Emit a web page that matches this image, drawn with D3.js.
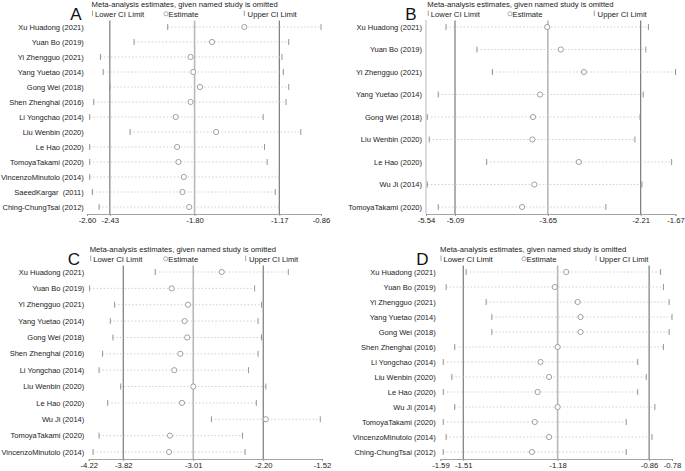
<!DOCTYPE html>
<html>
<head>
<meta charset="utf-8">
<script src="https://cdn.jsdelivr.net/npm/d3@7"></script>
<style>
  html, body { margin: 0; padding: 0; background: #fff; }
  svg { display: block; font-family: "Liberation Sans", Arial, sans-serif; }
  text { white-space: pre; }
</style>
</head>
<body>
<svg id="chart" width="685" height="471"></svg>
<script>
// ---------- DATA ----------
const studiesA = ["Xu Huadong (2021)","Yuan Bo (2019)","Yi Zhengguo (2021)","Yang Yuetao (2014)","Gong Wei (2018)","Shen Zhenghai (2016)","Li Yongchao (2014)","Liu Wenbin (2020)","Le Hao (2020)","TomoyaTakami (2020)","VincenzoMinutolo (2014)","SaeedKargar  (2011)","Ching-ChungTsai (2012)"];
const lowerA = [-2.00,-2.25,-2.50,-2.48,-2.43,-2.55,-2.58,-2.28,-2.58,-2.58,-2.58,-2.56,-2.51];
const estA   = [-1.43,-1.67,-1.83,-1.81,-1.76,-1.83,-1.94,-1.64,-1.93,-1.92,-1.88,-1.89,-1.84];
const upperA = [-0.86,-1.10,-1.15,-1.14,-1.10,-1.12,-1.29,-1.01,-1.28,-1.26,-1.17,-1.20,-1.17];
const ticksA = [-2.60,-2.43,-1.80,-1.17,-0.86];
const tickLabelsA = ["-2.60","-2.43","-1.80","-1.17","-0.86"];
const refA = [-2.43,-1.80,-1.17];

const studiesB = ["Xu Huadong (2021)","Yuan Bo (2019)","Yi Zhengguo (2021)","Yang Yuetao (2014)","Gong Wei (2018)","Liu Wenbin (2020)","Le Hao (2020)","Wu Ji (2014)","TomoyaTakami (2020)"];
const lowerB = [-5.23,-4.75,-4.51,-5.35,-5.52,-5.49,-4.60,-5.52,-5.35];
const estB   = [-3.66,-3.45,-3.09,-3.77,-3.88,-3.89,-3.17,-3.86,-4.05];
const upperB = [-2.09,-2.13,-1.67,-2.17,-2.22,-2.30,-1.73,-2.19,-2.75];
const ticksB = [-5.54,-5.09,-3.65,-2.21,-1.67];
const tickLabelsB = ["-5.54","-5.09","-3.65","-2.21","-1.67"];
const refB = [-5.09,-3.65,-2.21];

const studiesC = ["Xu Huadong (2021)","Yuan Bo (2019)","Yi Zhengguo (2021)","Yang Yuetao (2014)","Gong Wei (2018)","Shen Zhenghai (2016)","Li Yongchao (2014)","Liu Wenbin (2020)","Le Hao (2020)","Wu Ji (2014)","TomoyaTakami (2020)","VincenzoMinutolo (2014)"];
const lowerC = [-3.45,-4.21,-3.92,-3.97,-3.94,-4.06,-4.10,-3.85,-4.00,-2.80,-4.10,-4.17];
const estC   = [-2.68,-3.26,-3.07,-3.11,-3.08,-3.16,-3.23,-3.01,-3.14,-2.17,-3.28,-3.29];
const upperC = [-1.91,-2.30,-2.22,-2.26,-2.22,-2.26,-2.37,-2.17,-2.28,-1.54,-2.44,-2.41];
const ticksC = [-4.22,-3.82,-3.01,-2.20,-1.52];
const tickLabelsC = ["-4.22","-3.82","-3.01","-2.20","-1.52"];
const refC = [-3.82,-3.01,-2.20];

const studiesD = ["Xu Huadong (2021)","Yuan Bo (2019)","Yi Zhengguo (2021)","Yang Yuetao (2014)","Gong Wei (2018)","Shen Zhenghai (2016)","Li Yongchao (2014)","Liu Wenbin (2020)","Le Hao (2020)","Wu Ji (2014)","TomoyaTakami (2020)","VincenzoMinutolo (2014)","Ching-ChungTsai (2012)"];
const lowerD = [-1.50,-1.57,-1.43,-1.41,-1.41,-1.54,-1.58,-1.55,-1.58,-1.54,-1.58,-1.57,-1.58];
const estD   = [-1.15,-1.19,-1.11,-1.10,-1.10,-1.18,-1.24,-1.21,-1.25,-1.18,-1.26,-1.21,-1.27];
const upperD = [-0.82,-0.81,-0.79,-0.78,-0.79,-0.81,-0.90,-0.87,-0.90,-0.84,-0.94,-0.85,-0.94];
const ticksD = [-1.59,-1.51,-1.18,-0.86,-0.78];
const tickLabelsD = ["-1.59","-1.51","-1.18","-0.86","-0.78"];
const refD = [-1.51,-1.18,-0.86];

const headerText = "Meta-analysis estimates, given named study is omitted";
const legendLabels = ["Lower CI Limit", "Estimate", "Upper CI Limit"];

// ---------- LAYOUT ----------
const panels = [
  { letter:"A", studies:studiesA, lower:lowerA, est:estA, upper:upperA, ticks:ticksA, tickLabels:tickLabelsA, ref:refA,
    x0:87, x1:321, oy:0, letterX:76, legX:[92.5,166,244.3], labelRight:83.8, yAxisLine:false },
  { letter:"B", studies:studiesB, lower:lowerB, est:estB, upper:upperB, ticks:ticksB, tickLabels:tickLabelsB, ref:refB,
    x0:426, x1:675.5, oy:0, letterX:411, legX:[428.3,510,594.3], labelRight:422, yAxisLine:true },
  { letter:"C", studies:studiesC, lower:lowerC, est:estC, upper:upperC, ticks:ticksC, tickLabels:tickLabelsC, ref:refC,
    x0:88.7, x1:322, oy:245, letterX:74, legX:[90.7,165.7,245.7], labelRight:84.3, yAxisLine:false },
  { letter:"D", studies:studiesD, lower:lowerD, est:estD, upper:upperD, ticks:ticksD, tickLabels:tickLabelsD, ref:refD,
    x0:440.4, x1:672, oy:245, letterX:422.5, legX:[441,524,596], labelRight:435.7, yAxisLine:false }
];

const svg = d3.select("#chart");
const FS = 7.7;
const LFS = 7.5;

panels.forEach(p => {
  const g = svg.append("g").attr("transform", `translate(0,${p.oy})`);
  const x = d3.scaleLinear().domain([p.ticks[0], p.ticks[p.ticks.length-1]]).range([p.x0, p.x1]);
  const y = d3.scalePoint().domain(p.studies).range([27, 207]);
  const axisY = 214;
  const rows = p.studies.map((s,i) => ({ s, lo:p.lower[i], est:p.est[i], hi:p.upper[i] }));

  // header
  g.append("text").attr("x", p.legX[0] - 1).attr("y", 6.8)
    .attr("font-size", FS).attr("fill", "#222").text(headerText);
  // letter
  g.append("text").attr("x", p.letterX).attr("y", 20).attr("text-anchor","middle")
    .attr("font-size", 17).attr("fill", "#111").text(p.letter);

  // legend
  const ly = 16.6;
  const leg = g.append("g");
  leg.append("line").attr("x1", p.legX[0]).attr("x2", p.legX[0]).attr("y1", ly-6).attr("y2", ly-0.5)
    .attr("stroke", "#999").attr("stroke-width", 0.9);
  leg.append("text").attr("x", p.legX[0] + 2.5).attr("y", ly).attr("font-size", FS).attr("fill","#222").text(legendLabels[0]);
  leg.append("circle").attr("cx", p.legX[1]).attr("cy", ly-2.8).attr("r", 2.1)
    .attr("fill","#fff").attr("stroke","#999").attr("stroke-width",0.8);
  leg.append("text").attr("x", p.legX[1] + 2.6).attr("y", ly).attr("font-size", FS).attr("fill","#222").text(legendLabels[1]);
  leg.append("line").attr("x1", p.legX[2]).attr("x2", p.legX[2]).attr("y1", ly-6).attr("y2", ly-0.5)
    .attr("stroke", "#999").attr("stroke-width", 0.9);
  leg.append("text").attr("x", p.legX[2] + 3.3).attr("y", ly).attr("font-size", FS).attr("fill","#222").text(legendLabels[2]);

  // y axis line (only where visible)
  if (p.yAxisLine) {
    g.append("line").attr("x1", p.x0).attr("x2", p.x0).attr("y1", 20).attr("y2", axisY)
      .attr("stroke", "#aaa").attr("stroke-width", 0.8);
  }

  // reference lines
  g.selectAll(".ref").data(p.ref).enter().append("line")
    .attr("x1", d => x(d)).attr("x2", d => x(d)).attr("y1", 20.5).attr("y2", axisY)
    .attr("stroke", (d,i) => i === 1 ? "#b8b8b8" : "#6e6e6e")
    .attr("stroke-width", (d,i) => i === 1 ? 1.6 : 1.1);

  // CI dotted lines
  g.selectAll(".ci").data(rows).enter().append("line")
    .attr("x1", d => x(d.lo)).attr("x2", d => x(d.hi))
    .attr("y1", d => y(d.s)).attr("y2", d => y(d.s))
    .attr("stroke", "#c4c4c4").attr("stroke-width", 0.8).attr("stroke-dasharray", "1.5,2");
  // lower / upper caps
  ["lo","hi"].forEach(k => {
    g.selectAll(".cap"+k).data(rows).enter().append("line")
      .attr("x1", d => x(d[k])).attr("x2", d => x(d[k]))
      .attr("y1", d => y(d.s) - 3).attr("y2", d => y(d.s) + 3)
      .attr("stroke", "#8a8a8a").attr("stroke-width", 0.9);
  });
  // estimates
  g.selectAll(".est").data(rows).enter().append("circle")
    .attr("cx", d => x(d.est)).attr("cy", d => y(d.s)).attr("r", 2.6)
    .attr("fill", "#fff").attr("stroke", "#8a8a8a").attr("stroke-width", 0.8);

  // study labels
  g.selectAll(".lab").data(p.studies).enter().append("text")
    .attr("x", p.labelRight).attr("y", d => y(d)).attr("dy", "0.35em")
    .attr("text-anchor", "end").attr("font-size", LFS).attr("fill", "#222").text(d => d);

  // x axis
  const axis = d3.axisBottom(x).tickValues(p.ticks).tickSize(2).tickPadding(2)
    .tickFormat((d,i) => p.tickLabels[i]);
  const ag = g.append("g").attr("transform", `translate(0,${axisY})`).call(axis);
  ag.select(".domain").attr("stroke", "#999").attr("stroke-width", 0.9);
  ag.selectAll(".tick line").attr("stroke", "#999");
  ag.selectAll(".tick text").attr("font-size", FS).attr("fill", "#222")
    .attr("font-family", "Liberation Sans, Arial, sans-serif");
});
</script>
</body>
</html>
